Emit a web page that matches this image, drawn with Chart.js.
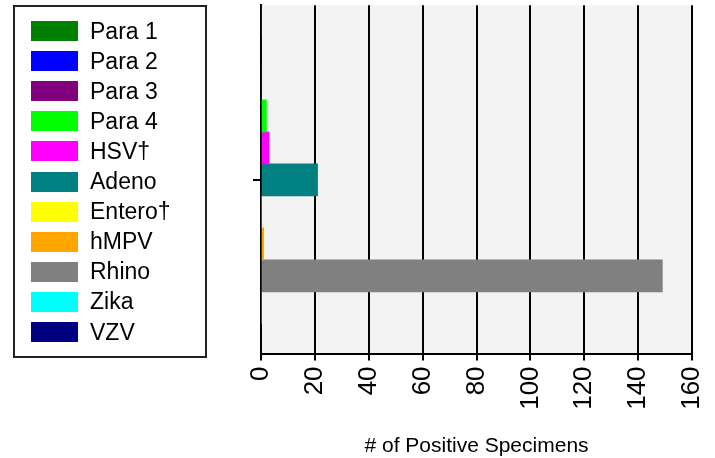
<!DOCTYPE html>
<html>
<head>
<meta charset="utf-8">
<script src="https://cdn.jsdelivr.net/npm/chart.js@4.4.0/dist/chart.umd.min.js"></script>
<style>
  body { margin: 0; background: #fff; width: 715px; height: 458px; overflow: hidden; position: relative; font-family: "Liberation Sans", Arial, sans-serif; }
  #wrap { position: absolute; left: 0; top: -5px; width: 715px; height: 463px; }
  #legend { position: absolute; left: 13px; top: 5px; width: 190px; height: 349px; border: 2px solid #222; }
  .item { position: absolute; left: 16px; height: 30px; display: flex; align-items: center; font-size: 23px; color: #000; }
  .sw { width: 47px; height: 20px; margin-right: 12px; }
</style>
</head>
<body>
<div id="wrap"><canvas id="virusChart"></canvas></div>
<div id="legend"></div>
<script>
// Datos
const virus = ['Para 1', 'Para 2', 'Para 3', 'Para 4', 'HSV\u2020', 'Adeno', 'Entero\u2020', 'hMPV', 'Rhino', 'Zika', 'VZV'];
const positivos = [0, 0, 0, 2, 3, 21, 0, 1, 149, 0, 0];
const colores = ['#008000', '#0000ff', '#800080', '#00ff00', '#ff00ff', '#008080', '#ffff00', '#ffa500', '#808080', '#00ffff', '#000080'];
const ticksX = [0, 20, 40, 60, 80, 100, 120, 140, 160];

// Leyenda en HTML
const leyenda = document.getElementById('legend');
virus.forEach((nombre, i) => {
    const div = document.createElement('div');
    div.className = 'item';
    div.style.top = (9 + i * 30.1) + 'px';
    div.innerHTML = '<span class="sw" style="background:' + colores[i] + '"></span><span>' + nombre + '</span>';
    leyenda.appendChild(div);
});

const datasets = virus.map((nombre, i) => ({
    label: nombre,
    data: [positivos[i]],
    backgroundColor: colores[i],
    borderWidth: 0,
    barThickness: 32
}));

// Fondo gris del area
const fondo = {
    id: 'fondo',
    beforeDraw(chart) {
        const a = chart.chartArea;
        const ctx = chart.ctx;
        ctx.save();
        ctx.fillStyle = '#f3f3f3';
        ctx.fillRect(a.left, a.top, a.right - a.left, a.bottom - a.top);
        ctx.restore();
    }
};

new Chart(document.getElementById('virusChart'), {
    type: 'bar',
    data: { labels: [''], datasets: datasets },
    plugins: [fondo],
    options: {
        indexAxis: 'y',
        responsive: true,
        maintainAspectRatio: false,
        animation: false,
        layout: { padding: { left: 251, right: 23, top: 0, bottom: -1 } },
        plugins: {
            legend: { display: false },
            tooltip: { enabled: false }
        },
        scales: {
            x: {
                min: 0,
                max: 160,
                afterBuildTicks: s => { s.ticks = ticksX.map(v => ({ value: v })); },
                afterFit: s => { s.paddingRight = 0; s.paddingLeft = 0; },
                grid: { color: '#000', lineWidth: 2, tickLength: 6 },
                border: { color: '#000', width: 2 },
                ticks: {
                    color: '#000',
                    minRotation: 90,
                    maxRotation: 90,
                    padding: 6,
                    font: { family: 'Liberation Sans', size: 26 }
                },
                title: {
                    display: true,
                    text: '# of Positive Specimens',
                    color: '#000',
                    padding: { top: 18, bottom: 0 },
                    font: { family: 'Liberation Sans', size: 21 }
                }
            },
            y: {
                afterFit: s => { s.width = 10; },
                grid: { offset: false, drawOnChartArea: false, color: '#000', lineWidth: 2, tickLength: 8 },
                border: { color: '#000', width: 2 },
                ticks: { display: true, callback: () => '' }
            }
        }
    }
});
</script>
</body>
</html>
